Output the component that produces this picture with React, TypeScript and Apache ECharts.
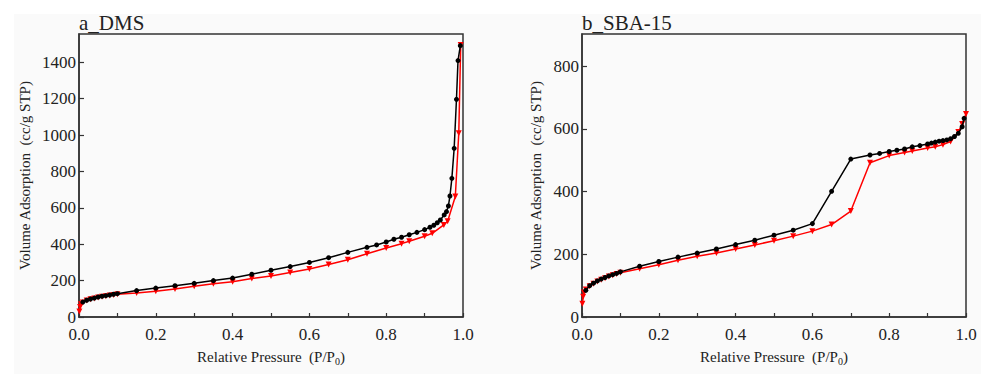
import React, { useEffect, useRef } from "react";
import * as echarts from "echarts";

// ---- Panel a: DMS ----
const dmsAdsX = [0.01, 0.02, 0.03, 0.04, 0.05, 0.06, 0.07, 0.08, 0.09, 0.1, 0.15, 0.2, 0.25, 0.3, 0.35, 0.4, 0.45, 0.5, 0.55, 0.6, 0.65, 0.7, 0.75, 0.775, 0.8, 0.82, 0.84, 0.86, 0.88, 0.9, 0.914, 0.924, 0.933, 0.941, 0.951, 0.957, 0.962, 0.966, 0.971, 0.977, 0.983, 0.987, 0.993];
const dmsAdsY = [82, 92, 99, 104, 110, 114, 117, 121, 125, 128, 145, 159, 172, 185, 200, 214, 235, 257, 277, 300, 326, 355, 383, 396, 412, 427, 438, 452, 465, 480, 493, 504, 518, 533, 561, 579, 610, 665, 762, 927, 1196, 1409, 1491];
const dmsRedX = [0.001, 0.003, 0.005, 0.01, 0.02, 0.03, 0.04, 0.05, 0.06, 0.07, 0.08, 0.09, 0.1, 0.15, 0.2, 0.25, 0.3, 0.35, 0.4, 0.45, 0.5, 0.55, 0.6, 0.65, 0.7, 0.75, 0.8, 0.84, 0.86, 0.9, 0.92, 0.95, 0.96, 0.98, 0.989, 0.994];
const dmsRedY = [30, 55, 70, 80, 90, 97, 102, 107, 111, 114, 118, 121, 125, 132, 141, 154, 169, 183, 194, 211, 225, 244, 264, 288, 315, 348, 379, 403, 416, 444, 460, 506, 526, 662, 1010, 1495];

// ---- Panel b: SBA-15 ----
const sbaBlackX = [0.01, 0.02, 0.03, 0.04, 0.05, 0.06, 0.07, 0.08, 0.09, 0.1, 0.15, 0.2, 0.25, 0.3, 0.35, 0.4, 0.45, 0.5, 0.55, 0.6, 0.65, 0.7, 0.75, 0.775, 0.8, 0.82, 0.84, 0.86, 0.88, 0.9, 0.91, 0.92, 0.93, 0.94, 0.95, 0.96, 0.97, 0.98, 0.99, 0.995];
const sbaBlackY = [85, 100, 108, 115, 121, 126, 131, 135, 139, 144, 162, 177, 191, 204, 217, 231, 245, 261, 277, 298, 401, 504, 517, 522, 528, 532, 536, 543, 547, 552, 555, 558, 561, 563, 565, 569, 576, 586, 607, 634];
const sbaRedX = [0.001, 0.003, 0.005, 0.01, 0.02, 0.03, 0.04, 0.05, 0.06, 0.07, 0.08, 0.09, 0.1, 0.15, 0.2, 0.25, 0.3, 0.35, 0.4, 0.45, 0.5, 0.55, 0.6, 0.65, 0.7, 0.75, 0.8, 0.84, 0.86, 0.9, 0.92, 0.94, 0.96, 0.98, 0.99, 1.0];
const sbaRedY = [42, 65, 78, 88, 98, 106, 113, 119, 124, 129, 133, 137, 141, 154, 167, 181, 194, 204, 217, 230, 243, 258, 274, 295, 338, 492, 515, 525, 530, 539, 543, 550, 560, 590, 616, 648];

const titles = ["a_DMS", "b_SBA-15"];
const yMaxes = [1555, 903];
const xName = "Relative Pressure  (P/P{sub|0})";
const yName = "Volume Adsorption  (cc/g STP)";

const FONT = "'Liberation Serif', 'DejaVu Serif', serif";

const zip = (xs: number[], ys: number[]) => xs.map((x, i) => [x, ys[i]]);

export default function App() {
  const ref = useRef<HTMLDivElement>(null);
  useEffect(() => {
    if (!ref.current) return;
    const chart = echarts.init(ref.current, undefined, { renderer: "svg" });
    const lefts = [79, 582];
    const grids = lefts.map((l) => ({
      left: l,
      top: 34,
      width: 384,
      height: 283,
      show: true,
      borderColor: "#333",
      borderWidth: 1.5,
      backgroundColor: "transparent",
    }));
    const xAxes = [0, 1].map((i) => ({
      type: "value",
      gridIndex: i,
      min: 0,
      max: 1,
      interval: 0.1,
      name: xName,
      nameLocation: "middle",
      nameGap: 31,
      nameTextStyle: {
        fontFamily: FONT,
        fontSize: 15,
        color: "#222",
        rich: {
          sub: { fontFamily: FONT, fontSize: 10, color: "#222", padding: [8, 0, 0, 0] },
        },
      },
      axisLine: { show: true, lineStyle: { color: "#333", width: 1.5 } },
      axisTick: { show: true, inside: true, length: 4, lineStyle: { color: "#333", width: 1.2 } },
      splitLine: { show: false },
      axisLabel: {
        fontFamily: FONT,
        fontSize: 17,
        lineHeight: 14,
        color: "#222",
        margin: 10,
        formatter: (v: number) => {
          const k = Math.round(v * 10);
          return k % 2 === 0 ? (k / 10).toFixed(1) : "";
        },
      },
    }));
    const yAxes = [0, 1].map((i) => ({
      type: "value",
      gridIndex: i,
      min: 0,
      max: yMaxes[i],
      interval: 200,
      name: yName,
      nameLocation: "middle",
      nameGap: i === 0 ? 47 : 39,
      nameTextStyle: { fontFamily: FONT, fontSize: 15, color: "#222" },
      axisLine: { show: true, lineStyle: { color: "#333", width: 1.5 } },
      axisTick: { show: true, inside: true, length: 5, lineStyle: { color: "#333", width: 1.2 } },
      splitLine: { show: false },
      axisLabel: {
        fontFamily: FONT,
        fontSize: 17,
        lineHeight: 15,
        color: "#222",
        margin: 3,
        showMaxLabel: false,
        formatter: (v: number) => String(Math.round(v)),
      },
    }));
    const mk = (data: number[][], idx: number, red: boolean) => ({
      type: "line",
      xAxisIndex: idx,
      yAxisIndex: idx,
      data,
      symbol: red ? "triangle" : "circle",
      symbolRotate: red ? 180 : 0,
      symbolSize: red ? 6 : 5,
      showSymbol: true,
      lineStyle: { color: red ? "#ff0000" : "#000", width: 1.5 },
      itemStyle: { color: red ? "#ff0000" : "#000" },
      z: red ? 2 : 3,
    });
    chart.setOption({
      animation: false,
      backgroundColor: "#ffffff",
      textStyle: { fontFamily: FONT },
      graphic: [
        { type: "rect", shape: { x: 14, y: 14, width: 981, height: 374 }, style: { fill: "#fafafa" }, z: -10, silent: true },
        { type: "text", left: 79, top: 12, style: { text: titles[0], fontFamily: FONT, fontSize: 21, fill: "#222" } },
        { type: "text", left: 582, top: 12, style: { text: titles[1], fontFamily: FONT, fontSize: 21, fill: "#222" } },
      ],
      grid: grids,
      xAxis: xAxes,
      yAxis: yAxes,
      series: [
        mk(zip(dmsRedX, dmsRedY), 0, true),
        mk(zip(dmsAdsX, dmsAdsY), 0, false),
        mk(zip(sbaRedX, sbaRedY), 1, true),
        mk(zip(sbaBlackX, sbaBlackY), 1, false),
      ],
    });
    return () => chart.dispose();
  }, []);
  return (
    <div
      ref={ref}
      style={{ position: "fixed", left: 0, top: 0, width: 981, height: 374 }}
    />
  );
}
